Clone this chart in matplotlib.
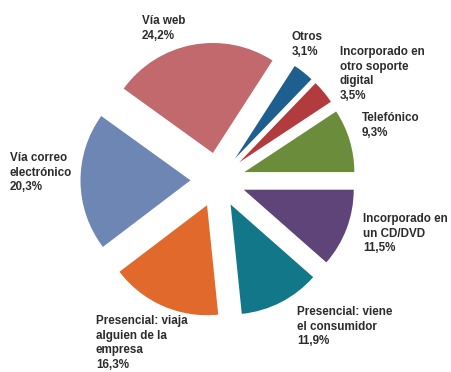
import matplotlib
matplotlib.use("Agg")
import matplotlib.pyplot as plt

# Canales de entrega (orden antihorario desde las 3 en punto)
categorias = [
    "Telefónico",
    "Incorporado en\notro soporte\ndigital",
    "Otros",
    "Vía web",
    "Vía correo\nelectrónico",
    "Presencial: viaja\nalguien de la\nempresa",
    "Presencial: viene\nel consumidor",
    "Incorporado en\nun CD/DVD",
]
porcentajes = [9.3, 3.5, 3.1, 24.2, 20.3, 16.3, 11.9, 11.5]

colores = ["#6b8d3b", "#b13b3d", "#1f5f8f", "#c1696c",
           "#6e86b4", "#e0692b", "#13778a", "#5f4479"]

# esquina superior izquierda de cada rótulo, en píxeles
pos_rotulos = [(362, 112), (340, 46), (292, 31), (142, 15),
               (10, 152), (96, 315), (297, 306), (363, 213)]

W, H = 452, 372
fig = plt.figure(figsize=(W / 100, H / 100), dpi=100)
ax = fig.add_axes([0, 0, 1, 1])

cx, cy, r = 218, 180, 110  # centro y radio en píxeles
ax.pie(porcentajes, colors=colores, startangle=0, counterclock=True,
       explode=[0.25] * len(porcentajes), radius=1,
       wedgeprops=dict(linewidth=0))

ax.set_xlim(-cx / r, (W - cx) / r)
ax.set_ylim(-(H - cy) / r, cy / r)
ax.set_aspect("auto")
ax.axis("off")

for nombre, valor, (px, py) in zip(categorias, porcentajes, pos_rotulos):
    txt = nombre + "\n" + f"{valor:.1f}".replace(".", ",") + "%"
    fig.text(px / W, 1 - py / H, txt, ha="left", va="top",
             fontsize=8.4, fontweight="bold", family="Liberation Sans",
             color="#2b2b2b", linespacing=1.28)

fig.savefig("out.png", dpi=100, facecolor="white")
